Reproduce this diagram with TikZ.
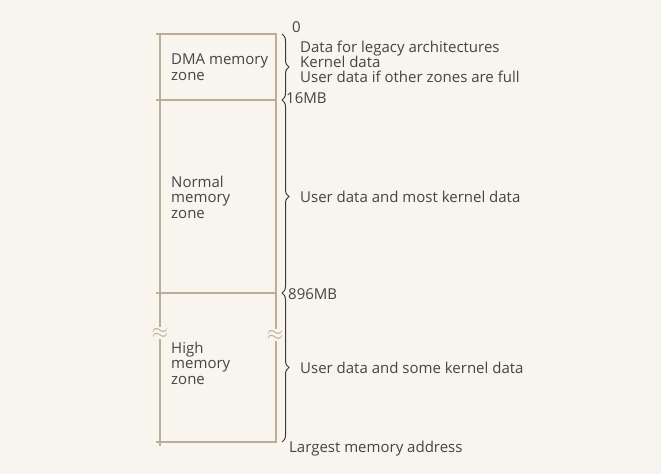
\documentclass[tikz,border=0pt]{standalone}
\usepackage{fontspec}
\setmainfont{Open Sans}
\usetikzlibrary{positioning,calc,decorations.pathreplacing}
\definecolor{paper}{HTML}{F8F4EE}
\definecolor{linetan}{HTML}{BBAD96}
\definecolor{inkgrey}{HTML}{454545}
\definecolor{bracegrey}{HTML}{3A3A3A}

\begin{document}
\begin{tikzpicture}[x=1pt,y=-1pt,
		rule/.style={draw=linetan,line width=1.1pt},
		zonetext/.style={anchor=west,align=left,text=inkgrey,inner sep=0pt,
			font=\fontsize{15}{15.5}\selectfont},
		note/.style={anchor=west,align=left,text=inkgrey,inner sep=0pt,
			font=\fontsize{15}{15}\selectfont},
		breakmark/.style={fill=paper,text=linetan,inner sep=0.5pt,font=\fontsize{20}{20}\selectfont},
		addrbrace/.style={decorate,decoration={brace,amplitude=7pt},draw=bracegrey,line width=1pt}]
	\fill[paper] (0,0) rectangle (661,474);
	\useasboundingbox (0,0) rectangle (661,474);

	% zone boundaries
	\coordinate (tl) at (160,34);
	\coordinate (tr) at (276,34);
	\coordinate (ml) at (160,100);
	\coordinate (mr) at (276,100);
	\coordinate (hl) at (160,293);
	\coordinate (hr) at (276,293);
	\coordinate (bl) at (160,442);
	\coordinate (br) at (276,442);

	\draw[rule] ($(tl)+(-4,0)$) -- ($(tr)+(1,0)$);
	\draw[rule] ($(ml)+(-4,0)$) -- ($(mr)+(1,0)$);
	\draw[rule] ($(hl)+(-4,0)$) -- ($(hr)+(1,0)$);
	\draw[rule] ($(bl)+(-4,0)$) -- ($(br)+(1,0)$);
	\draw[rule] (tl) -- ($(bl)+(0,4)$);
	\draw[rule] (tr) -- (br);

	\node[breakmark] (lbreak) at (160,333) {$\approx$};
	\node[breakmark] (rbreak) at (275,335) {$\approx$};

	% zone names
	\node[zonetext] (dma) at (171,67) {DMA memory\\zone};
	\node[zonetext] (normal) at (171,197) {Normal\\memory\\zone};
	\node[zonetext] (high) at (171,363) {High\\memory\\zone};

	% braces and uses
	\draw[addrbrace] ($(tr)+(6,0)$) -- ($(mr)+(6,0)$) coordinate[midway] (dmatip);
	\draw[addrbrace] ($(mr)+(6,0)$) -- ($(hr)+(6,0)$) coordinate[midway] (normaltip);
	\draw[addrbrace] ($(hr)+(6,0)$) -- ($(br)+(6,0)$) coordinate[midway] (hightip);

	\node[note] (dmause) at ($(dmatip)+(18,-5)$) {Data for legacy architectures\\Kernel data\\User data if other zones are full};
	\node[note] (normaluse) at ($(normaltip)+(18,0)$) {User data and most kernel data};
	\node[note] (highuse) at ($(hightip)+(18,0)$) {User data and some kernel data};

	% addresses
	\node[note,anchor=south west] (zero) at ($(tr)+(16,-1)$) {0};
	\node[note] (sixteen) at ($(mr)+(10,-2)$) {16MB};
	\node[note] (eightninesix) at ($(hr)+(12,1)$) {896MB};
	\node[note] (largest) at ($(br)+(13,7)$) {Largest memory address};
\end{tikzpicture}
\end{document}
